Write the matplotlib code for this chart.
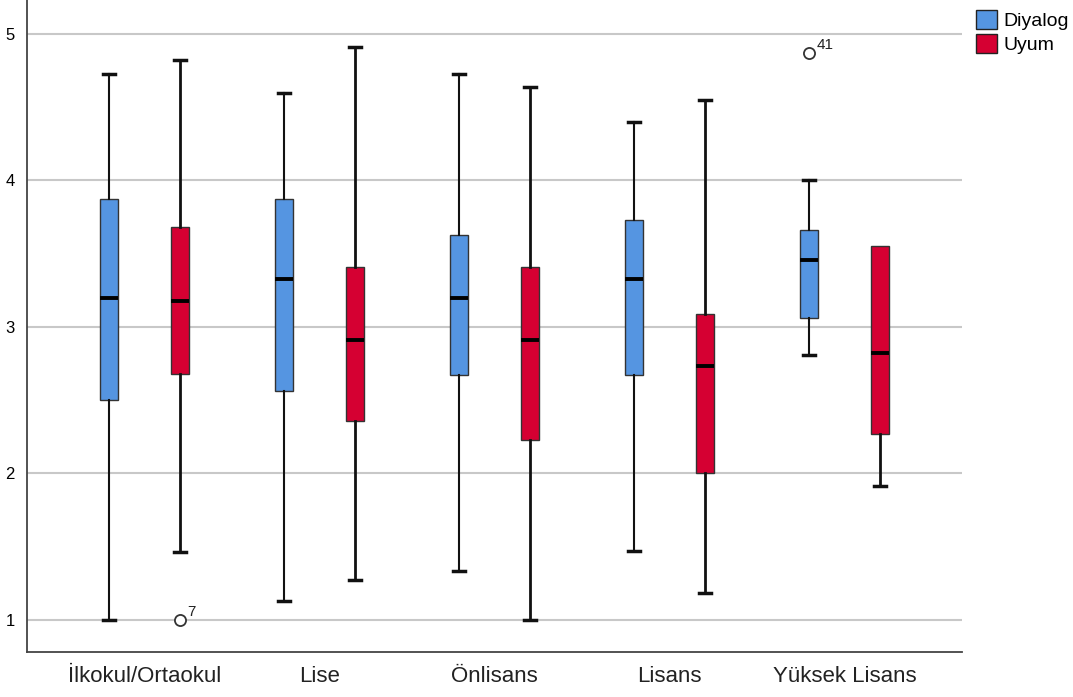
import matplotlib.pyplot as plt
from matplotlib.patches import Patch

# Datos (cajas: min, Q1, mediana, Q3, max)
categorias = ["İlkokul/Ortaokul", "Lise", "Önlisans", "Lisans", "Yüksek Lisans"]

diyalog_min = [1.00, 1.13, 1.33, 1.47, 2.81]
diyalog_q1 = [2.50, 2.56, 2.67, 2.67, 3.06]
diyalog_med = [3.20, 3.33, 3.20, 3.33, 3.46]
diyalog_q3 = [3.87, 3.87, 3.63, 3.73, 3.66]
diyalog_max = [4.73, 4.60, 4.73, 4.40, 4.00]
diyalog_outliers = [[], [], [], [], [4.87]]
diyalog_outlier_ids = [[], [], [], [], ["41"]]

uyum_min = [1.46, 1.27, 1.00, 1.18, 1.91]
uyum_q1 = [2.68, 2.36, 2.23, 2.00, 2.27]
uyum_med = [3.18, 2.91, 2.91, 2.73, 2.82]
uyum_q3 = [3.68, 3.41, 3.41, 3.09, 3.55]
uyum_max = [4.82, 4.91, 4.64, 4.55, 3.55]
uyum_outliers = [[1.00], [], [], [], []]
uyum_outlier_ids = [["7"], [], [], [], []]

azul = "#5595E1"
rojo = "#D50032"

plt.rcParams["font.family"] = ["Liberation Sans", "DejaVu Sans"]


def armar_stats(mins, q1s, meds, q3s, maxs, outs):
    stats = []
    for i in range(len(mins)):
        stats.append({
            "whislo": mins[i], "q1": q1s[i], "med": meds[i],
            "q3": q3s[i], "whishi": maxs[i], "fliers": outs[i],
        })
    return stats


fig = plt.figure(figsize=(10.73, 6.97), dpi=100)
ax = fig.add_axes([0.0252, 0.0646, 0.8714, 0.9354])

pos = list(range(len(categorias)))
desp = 0.203
ancho = 0.105

series = [
    (armar_stats(diyalog_min, diyalog_q1, diyalog_med, diyalog_q3, diyalog_max, diyalog_outliers),
     diyalog_outliers, diyalog_outlier_ids, -desp, azul, 1.5),
    (armar_stats(uyum_min, uyum_q1, uyum_med, uyum_q3, uyum_max, uyum_outliers),
     uyum_outliers, uyum_outlier_ids, desp, rojo, 2.0),
]

for stats, outs, ids, d, color, lw in series:
    posiciones = [p + d for p in pos]
    partes = ax.bxp(
        stats, positions=posiciones, widths=ancho, patch_artist=True,
        boxprops=dict(facecolor=color, edgecolor="#333333", linewidth=1.0),
        medianprops=dict(color="black", linewidth=2.8),
        whiskerprops=dict(color="#111111", linewidth=lw),
        capprops=dict(color="#111111", linewidth=2.5),
        capwidths=0.07,
        flierprops=dict(marker="o", markersize=8, markerfacecolor="white",
                        markeredgecolor="#333333", markeredgewidth=1.3),
        zorder=3,
    )
    # sin bigote superior cuando el maximo coincide con Q3
    for i, s in enumerate(stats):
        if s["whishi"] <= s["q3"]:
            partes["caps"][2 * i + 1].set_visible(False)
    for i, vals in enumerate(outs):
        for v, etiqueta in zip(vals, ids[i]):
            ax.annotate(etiqueta, (posiciones[i], v), xytext=(5, 3),
                        textcoords="offset points", fontsize=11, color="#222222")

ax.set_xlim(-0.67, 4.67)
ax.set_ylim(0.78, 5.232)
ax.set_xticks(pos)
ax.set_xticklabels(categorias, fontsize=16, color="#222222")
ax.set_yticks([1, 2, 3, 4, 5])
ax.tick_params(axis="both", length=0, pad=8)
ax.tick_params(axis="y", labelsize=12, pad=9)
ax.tick_params(axis="x", pad=10)

ax.yaxis.grid(True, color="#C8C8C8", linewidth=1.5, zorder=0)
ax.set_axisbelow(True)
for lado in ["top", "right"]:
    ax.spines[lado].set_visible(False)
for lado in ["left", "bottom"]:
    ax.spines[lado].set_color("#444444")
    ax.spines[lado].set_linewidth(1.3)

manijas = [Patch(facecolor=azul, edgecolor="#222222", label="Diyalog"),
           Patch(facecolor=rojo, edgecolor="#222222", label="Uyum")]
ax.legend(handles=manijas, loc="upper left", bbox_to_anchor=(1.0, 1.005),
          frameon=False, fontsize=14, handlelength=1.1, handleheight=1.1,
          handletextpad=0.35, labelspacing=0.2, borderaxespad=0.3)

fig.savefig("out.png", dpi=100)
